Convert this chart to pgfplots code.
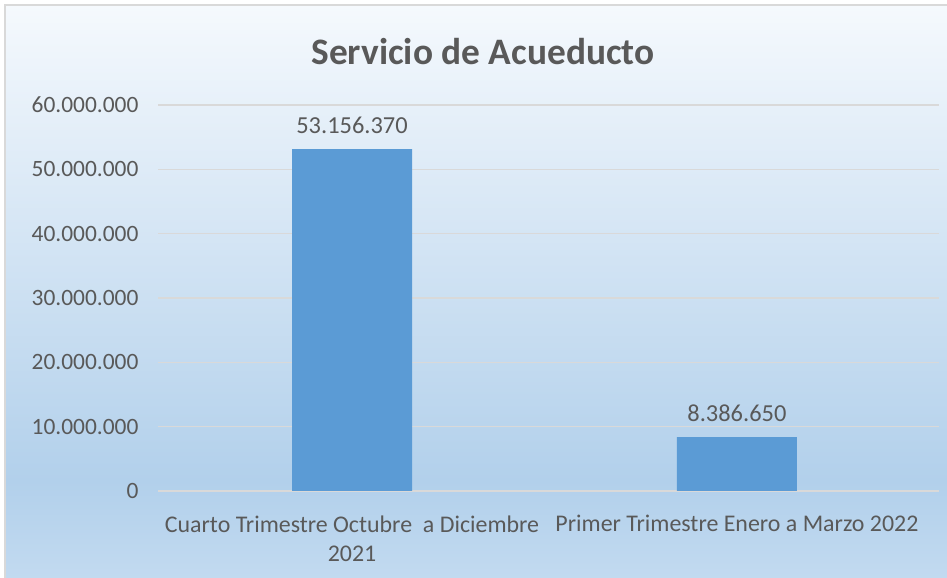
\documentclass[border=0pt]{standalone}
\usepackage{pgfplots}
\pgfplotsset{compat=1.18}
\usepackage{fontspec}
\setmainfont{Carlito}
\definecolor{barblue}{RGB}{91,155,213}
\definecolor{txtgray}{RGB}{89,89,89}
\definecolor{gridc}{RGB}{217,217,217}
\definecolor{bgtop}{RGB}{245,249,253}
\definecolor{bgbot}{RGB}{178,208,235}
\definecolor{bgbotlight}{RGB}{194,218,240}
\definecolor{framec}{RGB}{217,217,217}
\pgfdeclareverticalshading{bgshade}{100bp}{color(0bp)=(bgbotlight); color(25bp)=(bgbotlight); color(33.5bp)=(bgbot); color(75bp)=(bgtop); color(100bp)=(bgtop)}

\begin{document}
\begin{tikzpicture}[x=1bp,y=1bp]
\path[use as bounding box] (0,0) rectangle (947,578);
\fill[white] (0,0) rectangle (947,578);
\shade[shading=bgshade] (5,0) rectangle (947,573);
\draw[framec, line width=1.5bp] (5,0) -- (5,573) -- (947,573);
\node[txtgray, font=\fontsize{37.5}{42}\selectfont\bfseries] at (483,526) {Servicio de Acueducto};
\begin{axis}[
  at={(158bp,87bp)}, anchor=south west,
  scale only axis, width=781bp, height=386bp,
  xmin=-0.504, xmax=1.525,
  ymin=0, ymax=60000000,
  ytick={0,10000000,20000000,30000000,40000000,50000000,60000000},
  scaled y ticks=false,
  /pgf/number format/fixed,
  /pgf/number format/precision=0,
  /pgf/number format/1000 sep={.},
  /pgf/number format/assume math mode=true,
  xtick=data,
  xticklabels={{Cuarto Trimestre Octubre\ \ a Diciembre\\2021}, {Primer Trimestre Enero a Marzo 2022}},
  xticklabel style={align=center, text=txtgray, font=\fontsize{24}{29}\selectfont, yshift=-21bp},
  yticklabel style={text=txtgray, font=\fontsize{23.5}{28}\selectfont, xshift=-16bp},
  axis line style={draw=none},
  tick style={draw=none},
  major tick length=0pt,
  ymajorgrids=true,
  grid style={gridc, line width=1.5bp},
  ybar, bar width=120bp,
  nodes near coords={\pgfmathprintnumber{\pgfplotspointmeta}},
  nodes near coords style={text=txtgray, font=\fontsize{24.5}{28}\selectfont, yshift=12bp},
]
\addplot[fill=barblue, draw=none] coordinates {(0,53156370) (1,8386650)};
\end{axis}
\end{tikzpicture}
\end{document}
